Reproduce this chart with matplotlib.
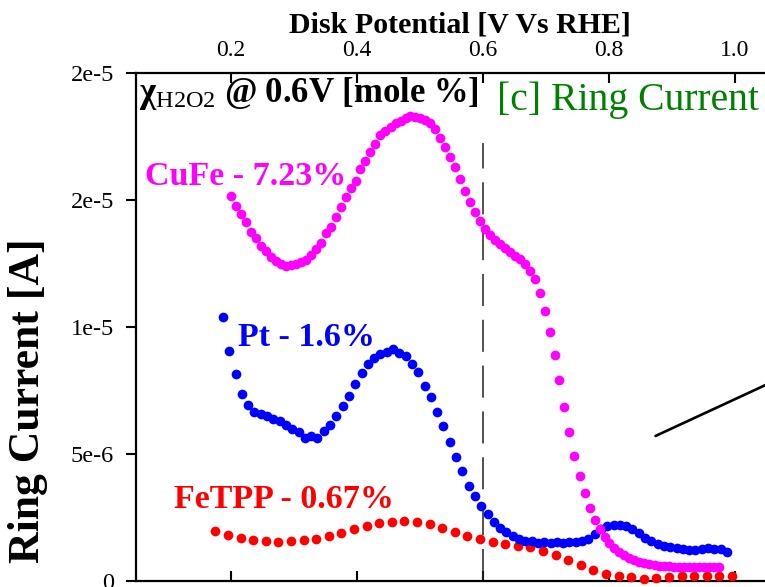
import matplotlib
matplotlib.use("Agg")
import matplotlib.pyplot as plt

plt.rcParams["font.family"] = ["Liberation Serif", "DejaVu Serif"]
plt.rcParams["mathtext.fontset"] = "custom"
plt.rcParams["mathtext.rm"] = "Liberation Serif"
plt.rcParams["mathtext.bf"] = "Liberation Serif:bold"
plt.rcParams["mathtext.it"] = "Liberation Serif:italic"

# Disk potentials (V vs RHE) and ring currents (1e-6 A) for each catalyst
cufe_potential = [
    0.201, 0.209, 0.217, 0.225, 0.233, 0.241, 0.248, 0.256, 0.264, 0.272,
    0.280, 0.288, 0.296, 0.304, 0.312, 0.320, 0.327, 0.335, 0.343, 0.351,
    0.359, 0.367, 0.375, 0.383, 0.391, 0.399, 0.406, 0.414, 0.422, 0.430,
    0.438, 0.446, 0.454, 0.462, 0.470, 0.478, 0.485, 0.493, 0.501, 0.509,
    0.517, 0.525, 0.533, 0.541, 0.549, 0.557, 0.564, 0.572, 0.580, 0.588,
    0.596, 0.604, 0.612, 0.620, 0.628, 0.636, 0.643, 0.651, 0.659, 0.667,
    0.675, 0.683, 0.691, 0.699, 0.707, 0.715, 0.722, 0.730, 0.738, 0.746,
    0.754, 0.762, 0.770, 0.778, 0.786, 0.794, 0.801, 0.809, 0.817, 0.825,
    0.833, 0.841, 0.849, 0.857, 0.865, 0.873, 0.880, 0.888, 0.896, 0.904,
    0.912, 0.920, 0.928, 0.936, 0.944, 0.952, 0.959, 0.967, 0.975,
]
cufe_current = [
    15.17, 14.76, 14.44, 14.12, 13.73, 13.52, 13.20, 12.99, 12.74, 12.59,
    12.48, 12.41, 12.43, 12.49, 12.55, 12.63, 12.82, 13.06, 13.30, 13.69,
    13.95, 14.33, 14.71, 15.11, 15.48, 15.76, 16.21, 16.55, 16.88, 17.19,
    17.56, 17.72, 17.89, 18.05, 18.12, 18.22, 18.31, 18.28, 18.22, 18.15,
    18.02, 17.80, 17.43, 17.10, 16.70, 16.29, 15.83, 15.37, 14.93, 14.54,
    14.19, 13.85, 13.62, 13.43, 13.27, 13.12, 12.96, 12.81, 12.66, 12.48,
    12.21, 11.89, 11.33, 10.64, 9.79, 8.91, 7.91, 6.85, 5.87, 4.92,
    4.13, 3.45, 2.89, 2.40, 2.03, 1.74, 1.50, 1.30, 1.14, 1.01,
    0.91, 0.81, 0.76, 0.70, 0.66, 0.63, 0.60, 0.59, 0.58, 0.57,
    0.57, 0.57, 0.56, 0.56, 0.56, 0.56, 0.55, 0.55, 0.55,
]

pt_potential = [
    0.188, 0.198, 0.208, 0.218, 0.228, 0.238, 0.248, 0.258, 0.268, 0.278,
    0.288, 0.298, 0.308, 0.318, 0.328, 0.338, 0.348, 0.358, 0.368, 0.378,
    0.388, 0.398, 0.408, 0.418, 0.428, 0.438, 0.448, 0.458, 0.468, 0.478,
    0.488, 0.498, 0.508, 0.518, 0.528, 0.538, 0.548, 0.558, 0.568, 0.578,
    0.588, 0.598, 0.608, 0.618, 0.628, 0.638, 0.648, 0.658, 0.668, 0.678,
    0.688, 0.698, 0.708, 0.718, 0.728, 0.738, 0.748, 0.758, 0.768, 0.778,
    0.788, 0.798, 0.808, 0.818, 0.828, 0.838, 0.848, 0.858, 0.868, 0.878,
    0.888, 0.898, 0.908, 0.918, 0.928, 0.938, 0.948, 0.958, 0.968, 0.978,
    0.988,
]
pt_current = [
    10.38, 9.07, 8.14, 7.37, 6.94, 6.65, 6.56, 6.48, 6.39, 6.30,
    6.15, 5.97, 5.87, 5.64, 5.70, 5.63, 5.91, 6.14, 6.50, 6.88,
    7.30, 7.74, 8.18, 8.53, 8.77, 8.95, 9.03, 9.12, 8.99, 8.86,
    8.53, 8.22, 7.69, 7.23, 6.67, 6.11, 5.47, 4.87, 4.32, 3.75,
    3.36, 2.94, 2.63, 2.33, 2.10, 1.92, 1.77, 1.67, 1.57, 1.57,
    1.48, 1.54, 1.48, 1.52, 1.48, 1.54, 1.52, 1.59, 1.67, 1.85,
    2.05, 2.17, 2.20, 2.22, 2.15, 2.06, 1.89, 1.71, 1.57, 1.44,
    1.37, 1.32, 1.30, 1.26, 1.24, 1.21, 1.25, 1.29, 1.27, 1.25,
    1.15,
]

fetpp_potential = [
    0.176, 0.196, 0.216, 0.236, 0.256, 0.276, 0.296, 0.316, 0.336, 0.356,
    0.376, 0.396, 0.416, 0.436, 0.456, 0.476, 0.496, 0.516, 0.536, 0.556,
    0.576, 0.596, 0.616, 0.636, 0.656, 0.676, 0.696, 0.716, 0.736, 0.756,
    0.776, 0.796, 0.816, 0.836, 0.856, 0.876, 0.896, 0.916, 0.936, 0.956,
    0.976, 0.996,
]
fetpp_current = [
    1.97, 1.82, 1.70, 1.61, 1.56, 1.55, 1.56, 1.60, 1.67, 1.76,
    1.89, 2.04, 2.17, 2.28, 2.34, 2.36, 2.31, 2.23, 2.07, 1.94,
    1.77, 1.64, 1.53, 1.44, 1.38, 1.33, 1.19, 1.02, 0.84, 0.62,
    0.42, 0.29, 0.21, 0.15, 0.09, 0.12, 0.16, 0.20, 0.20, 0.20,
    0.20, 0.21,
]

series_labels = ["CuFe - 7.23%", "Pt - 1.6%", "FeTPP - 0.67%"]
series_colors = ["#ff00ff", "#0000ff", "#ff0000"]

x_ticks = [0.2, 0.4, 0.6, 0.8, 1.0]
y_ticks = [0, 5e-6, 1e-5, 1.5e-5, 2e-5]
y_tick_labels = ["0", "5e-6", "1e-5", "2e-5", "2e-5"]
reference_potential = 0.6

scale = 1e-6
marker_size = 7

fig = plt.figure(figsize=(7.65, 5.87), dpi=100)
ax = fig.add_axes([0.1778, 0.0102, 0.8647, 0.8654])

ax.plot(fetpp_potential, [v * scale for v in fetpp_current], "o",
        color=series_colors[2], ms=marker_size, mew=0, clip_on=False, zorder=3)
ax.plot(pt_potential, [v * scale for v in pt_current], "o",
        color=series_colors[1], ms=marker_size, mew=0, clip_on=False, zorder=4)
ax.plot(cufe_potential, [v * scale for v in cufe_current], "o",
        color=series_colors[0], ms=marker_size, mew=0, clip_on=False, zorder=5)

ax.set_xlim(0.05, 1.10)
ax.set_ylim(0, 2e-5)

# reference potential marker
ax.axvline(reference_potential, ymin=0, ymax=0.862, color="#222222",
           lw=1.1, dashes=(21, 9), zorder=2)

# pointer line running off to the right
ax.annotate("", xy=(0.8746, 5.71e-6), xytext=(1.10, 8.30e-6),
            arrowprops=dict(arrowstyle="-", lw=1.9, color="black",
                            shrinkA=0, shrinkB=0),
            annotation_clip=False)

ax.set_xticks(x_ticks)
ax.set_xticklabels([f"{t:.1f}" for t in x_ticks])
ax.set_yticks(y_ticks)
ax.set_yticklabels(y_tick_labels)

ax.tick_params(axis="x", direction="in", top=True, bottom=True,
               labeltop=True, labelbottom=False, length=7, width=1.5,
               labelsize=17, pad=9)
ax.tick_params(axis="y", direction="out", left=True, right=False,
               length=7, width=1.5, labelsize=17.5, pad=9)
for side in ["left", "top", "bottom", "right"]:
    ax.spines[side].set_linewidth(1.6)

ax.xaxis.set_label_position("top")
ax.set_xlabel("Disk Potential [V Vs RHE]", fontsize=21.5, fontweight="bold")
ax.xaxis.set_label_coords(0.49, 1.08)
ax.set_ylabel("Ring Current [A]", fontsize=31.5, fontweight="bold", va="center")
ax.yaxis.set_label_coords(-0.163, 0.354)

ax.text(0.005, 0.943, r"$\mathbf{\chi}_{\mathrm{H2O2}}\ \mathbf{@\ 0.6V\ [mole\ \%]}$",
        transform=ax.transAxes, fontsize=25, va="baseline", ha="left")
ax.text(0.546, 0.927, "[c] Ring Current", transform=ax.transAxes,
        fontsize=28.5, color="#008000", va="baseline", ha="left")

ax.text(0.065, 15.59e-6, series_labels[0], color=series_colors[0],
        fontsize=24.5, fontweight="bold", va="baseline", ha="left")
ax.text(0.2116, 9.25e-6, series_labels[1], color=series_colors[1],
        fontsize=24.5, fontweight="bold", va="baseline", ha="left")
ax.text(0.111, 2.87e-6, series_labels[2], color=series_colors[2],
        fontsize=24.5, fontweight="bold", va="baseline", ha="left")

fig.savefig("out.png", dpi=100)
